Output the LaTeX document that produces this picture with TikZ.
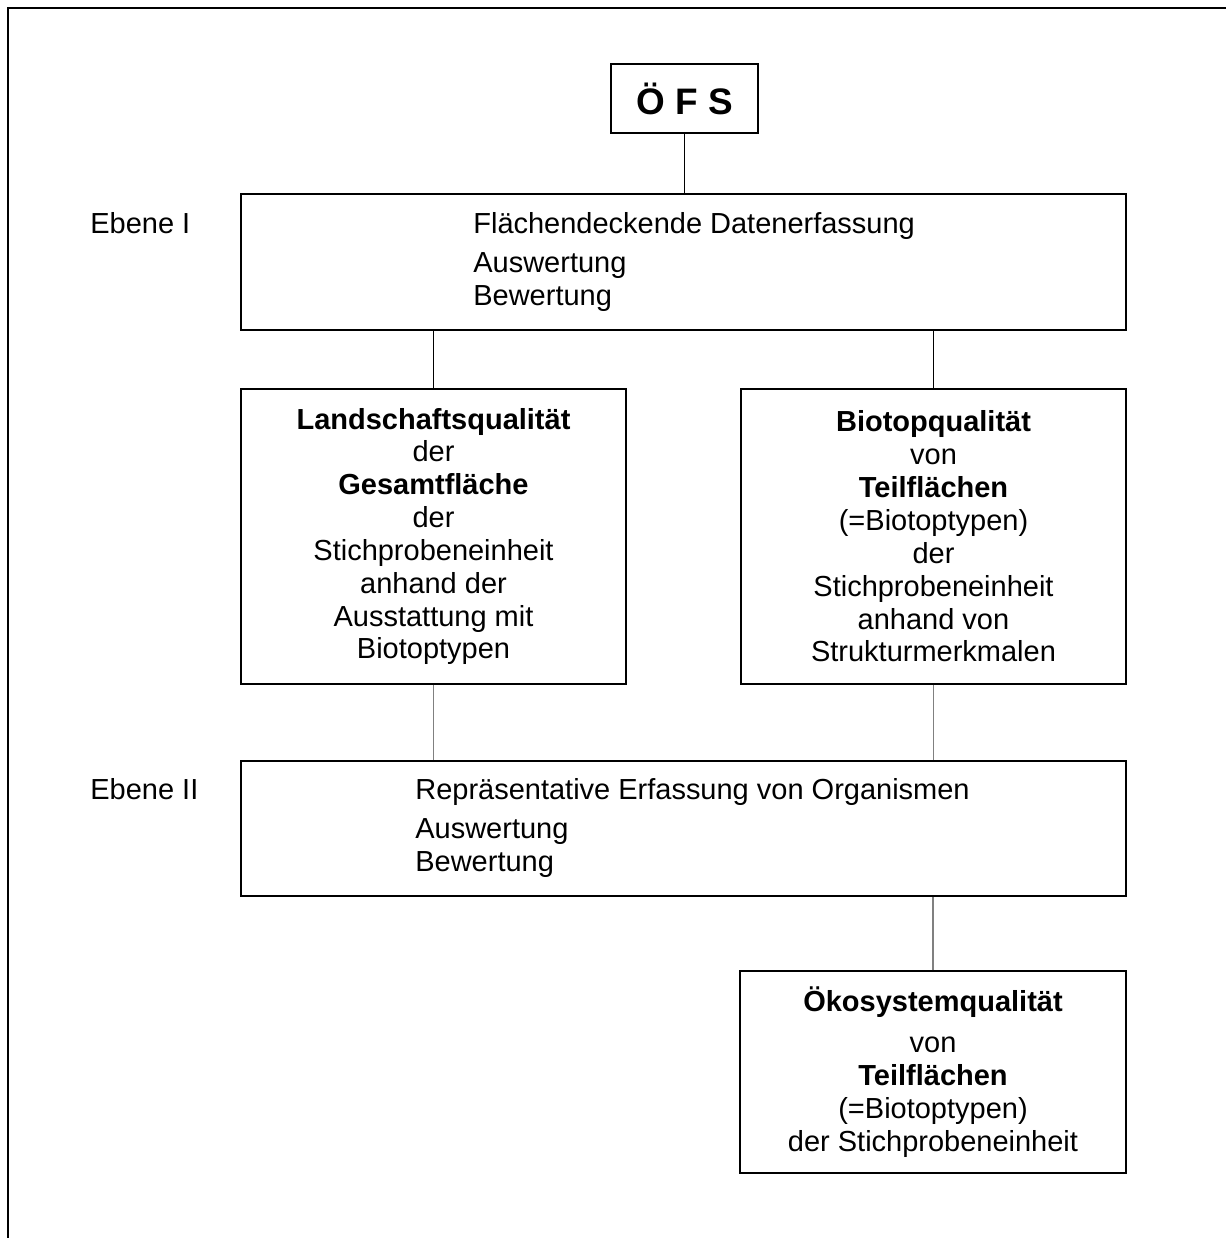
\documentclass[tikz,border=0pt]{standalone}
\usepackage{fontspec}
\setmainfont{Liberation Sans}
\newcommand{\boxfont}{\fontsize{16.5}{18.7}\selectfont}
\begin{document}
\begin{tikzpicture}[
  x=0.02cm, y=-0.02cm,
  box/.style={draw, line width=1.1pt, inner sep=0pt, font=\boxfont, align=center},
  label/.style={font=\boxfont, align=left, anchor=west, inner sep=0pt},
  link/.style={line width=0.8pt},
  thinlink/.style={line width=0.6pt, gray}
]
\useasboundingbox (0,0) rectangle (1226,1238);
\draw [line width=1.1pt] (8,1238) -- (8,8) -- (1226,8);

\node [box, minimum width=2.94cm, minimum height=1.38cm,
  font=\fontsize{21}{25}\selectfont\bfseries] (ofs) at (684.5,98.5) {Ö F S};

\node [box, minimum width=17.7cm, minimum height=2.72cm] (eb1) at (683.5,262) {};
\node [label] (eb1text) at (473,262)
  {Flächendeckende Datenerfassung\\[3.4pt] Auswertung\\ Bewertung};
\node [label] (ebene1) at (90,223) {Ebene I};

\node [box, minimum width=7.7cm, minimum height=5.9cm] (land) at (433.5,536.5)
  {\textbf{Landschaftsqualität}\\ der\\ \textbf{Gesamtfläche}\\ der\\
   Stichprobeneinheit\\ anhand der\\ Ausstattung mit\\ Biotoptypen};
\node [box, minimum width=7.7cm, minimum height=5.9cm] (bio) at (933.5,536.5)
  {\textbf{Biotopqualität}\\ von\\ \textbf{Teilflächen}\\ (=Biotoptypen)\\ der\\
   Stichprobeneinheit\\ anhand von\\ Strukturmerkmalen};

\node [box, minimum width=17.7cm, minimum height=2.7cm] (eb2) at (683.5,828.5) {};
\node [label] (eb2text) at (415,828)
  {Repräsentative Erfassung von Organismen\\[3.8pt] Auswertung\\ Bewertung};
\node [label] (ebene2) at (90,789) {Ebene II};

\node [box, minimum width=7.72cm, minimum height=4.04cm] (oeko) at (933,1072)
  {\textbf{Ökosystemqualität}\\[5pt] von\\ \textbf{Teilflächen}\\ (=Biotoptypen)\\
   der Stichprobeneinheit};

\draw [link] (ofs.south) -- (ofs.south |- eb1.north);
\draw [link] (land.north) -- (land.north |- eb1.south);
\draw [link] (bio.north) -- (bio.north |- eb1.south);
\draw [thinlink] (land.south) -- (land.south |- eb2.north);
\draw [thinlink] (bio.south) -- (bio.south |- eb2.north);
\draw [thinlink] (oeko.north) -- (oeko.north |- eb2.south);
\end{tikzpicture}
\end{document}
